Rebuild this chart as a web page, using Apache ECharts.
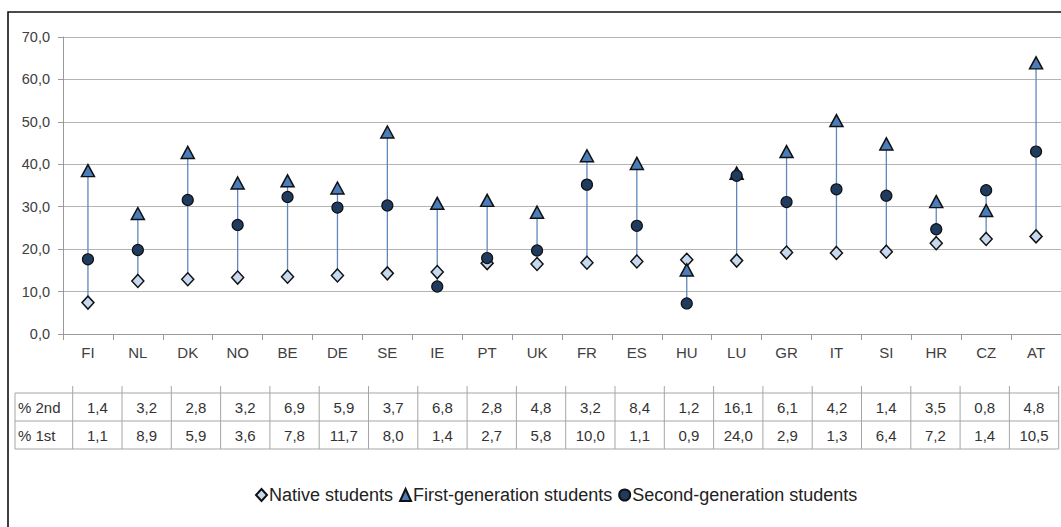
<!DOCTYPE html>
<html>
<head>
<meta charset="utf-8">
<style>
  html, body { margin: 0; padding: 0; background: #fff; }
  #chart { width: 1061px; height: 527px; }
</style>
<script src="https://cdn.jsdelivr.net/npm/echarts@6/dist/echarts.min.js"></script>
</head>
<body>
<div id="chart"></div>
<script>
const categories = ['FI','NL','DK','NO','BE','DE','SE','IE','PT','UK','FR','ES','HU','LU','GR','IT','SI','HR','CZ','AT'];
const nativeStudents = [7.4,12.5,12.9,13.3,13.5,13.8,14.3,14.6,16.7,16.5,16.8,17.1,17.5,17.3,19.2,19.1,19.4,21.4,22.4,23.0];
const firstGeneration = [38.5,28.4,42.8,35.6,36.1,34.4,47.6,30.8,31.5,28.7,42.0,40.2,15.1,37.9,43.0,50.3,44.8,31.2,29.1,63.9];
const secondGeneration = [17.6,19.8,31.6,25.7,32.3,29.8,30.3,11.2,17.9,19.7,35.2,25.5,7.2,37.3,31.1,34.1,32.6,24.7,33.9,43.0];
const pct2nd = [1.4,3.2,2.8,3.2,6.9,5.9,3.7,6.8,2.8,4.8,3.2,8.4,1.2,16.1,6.1,4.2,1.4,3.5,0.8,4.8];
const pct1st = [1.1,8.9,5.9,3.6,7.8,11.7,8.0,1.4,2.7,5.8,10.0,1.1,0.9,24.0,2.9,1.3,6.4,7.2,1.4,10.5];
const tableRowLabels = ['% 2nd', '% 1st'];
const yTicks = [0,10,20,30,40,50,60,70];

const fmt = v => v.toFixed(1).replace('.', ',');
const baseFont = "'Liberation Sans', Arial, sans-serif";
const narrowFont = "'Liberation Sans Narrow', 'Arial Narrow', 'Liberation Sans', sans-serif";

const rangeData = categories.map((c, i) => {
  const vals = [nativeStudents[i], firstGeneration[i], secondGeneration[i]];
  return [i, Math.min(...vals), Math.max(...vals)];
});

// data table graphic
const T = 393, RH = 28, X0 = 15, X1 = 72.7, CW = 49.3;
const XR = X1 + CW * categories.length;
const gridColor = '#a6a6a6';
const graphics = [];
graphics.push({ type: 'rect', shape: { x: 8, y: 12, width: 1070, height: 530 },
  style: { fill: 'none', stroke: '#111', lineWidth: 1.6 }, silent: true });
for (let r = 0; r <= 2; r++) {
  graphics.push({ type: 'line', shape: { x1: X0, y1: T + r * RH, x2: XR, y2: T + r * RH },
    style: { stroke: gridColor, lineWidth: 1 } });
}
graphics.push({ type: 'line', shape: { x1: X0, y1: T, x2: X0, y2: T + 2 * RH }, style: { stroke: gridColor, lineWidth: 1 } });
for (let k = 0; k <= categories.length; k++) {
  const x = X1 + k * CW;
  graphics.push({ type: 'line', shape: { x1: x, y1: T - 7, x2: x, y2: T + 2 * RH }, style: { stroke: gridColor, lineWidth: 1 } });
}
const rows = [pct2nd, pct1st];
rows.forEach((arr, r) => {
  graphics.push({ type: 'text', style: { x: X0 + 3, y: T + r * RH + RH / 2, text: tableRowLabels[r],
    font: '15px ' + baseFont, fill: '#333', textAlign: 'left', textVerticalAlign: 'middle' } });
  arr.forEach((v, i) => {
    graphics.push({ type: 'text', style: { x: X1 + CW * (i + 0.5), y: T + r * RH + RH / 2, text: fmt(v),
      font: '15px ' + baseFont, fill: '#333', textAlign: 'center', textVerticalAlign: 'middle' } });
  });
});

const chart = echarts.init(document.getElementById('chart'), null, { renderer: 'svg' });
chart.setOption({
  animation: false,
  backgroundColor: '#fff',
  grid: { left: 63, right: -2, top: 37, bottom: 193, containLabel: false },
  xAxis: {
    type: 'category', data: categories, boundaryGap: true,
    axisLine: { lineStyle: { color: '#9a9a9a', width: 1 } },
    axisTick: { show: true, length: 6, lineStyle: { color: '#9a9a9a' } },
    axisLabel: { color: '#404040', fontSize: 15, fontFamily: baseFont, margin: 11 },
    splitLine: { show: false }
  },
  yAxis: {
    type: 'value', min: yTicks[0], max: yTicks[yTicks.length - 1], interval: 10,
    axisLine: { show: true, lineStyle: { color: '#9a9a9a', width: 1 } },
    axisTick: { show: true, length: 5, lineStyle: { color: '#9a9a9a' } },
    axisLabel: { color: '#404040', fontSize: 14.5, fontFamily: baseFont, margin: 13, formatter: v => fmt(v) },
    splitLine: { show: true, lineStyle: { color: '#b4b4b4', width: 1 } }
  },
  legend: {
    left: 250, top: 481, itemGap: 6, itemWidth: 11, itemHeight: 12,
    textStyle: { fontSize: 18, fontFamily: narrowFont, color: '#222', padding: [0, 0, 0, -3] },
    data: ['Native students', 'First-generation students', 'Second-generation students']
  },
  graphic: graphics,
  series: [
    {
      type: 'custom', name: 'range', data: rangeData, encode: { x: 0, y: [1, 2] }, z: 1,
      renderItem: (params, api) => {
        const x = api.value(0);
        const p1 = api.coord([x, api.value(1)]);
        const p2 = api.coord([x, api.value(2)]);
        return { type: 'line', shape: { x1: p1[0], y1: p1[1], x2: p2[0], y2: p2[1] },
          style: { stroke: '#5f87bf', lineWidth: 1.3 } };
      }
    },
    {
      type: 'scatter', name: 'Native students', data: nativeStudents, symbol: 'diamond', symbolSize: [12, 13], z: 3,
      itemStyle: { color: '#c6d9f1', borderColor: '#111', borderWidth: 1.5, opacity: 1 }
    },
    {
      type: 'scatter', name: 'First-generation students', data: firstGeneration, symbol: 'triangle', symbolSize: [13, 12], z: 4,
      itemStyle: { color: '#4a7ebb', borderColor: '#111', borderWidth: 1.5, opacity: 1 }
    },
    {
      type: 'scatter', name: 'Second-generation students', data: secondGeneration, symbol: 'circle', symbolSize: 11, z: 5,
      itemStyle: { color: '#1f3b60', borderColor: '#111', borderWidth: 1.2, opacity: 1 }
    }
  ]
});
</script>
</body>
</html>
